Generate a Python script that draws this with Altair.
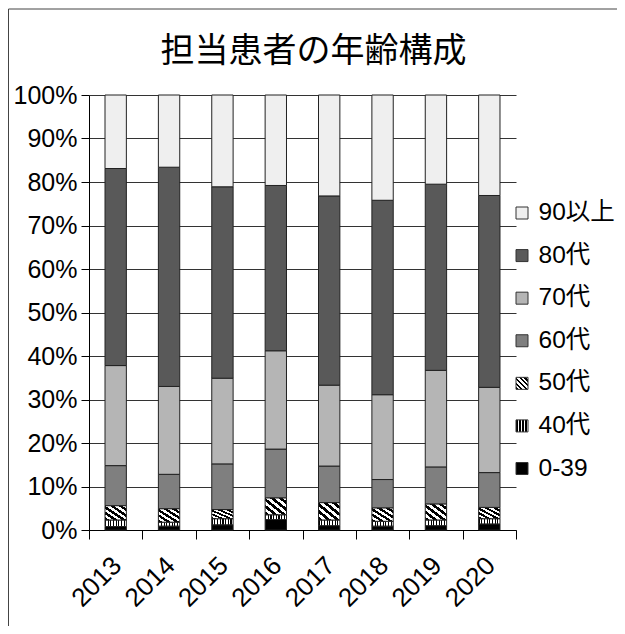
import altair as alt
import pandas as pd

years = ["2013", "2014", "2015", "2016", "2017", "2018", "2019", "2020"]
groups = ["0-39", "40代", "50代", "60代", "70代", "80代", "90以上"]

age_0_39 = [0.8, 0.9, 1.2, 2.4, 1.0, 0.9, 1.0, 1.4]
age_40 = [1.5, 0.9, 1.4, 1.1, 1.3, 1.1, 1.3, 1.2]
age_50 = [3.3, 3.1, 2.1, 3.9, 4.0, 3.1, 3.7, 2.6]
age_60 = [9.2, 7.9, 10.5, 11.2, 8.4, 6.5, 8.5, 8.0]
age_70 = [23.0, 20.2, 19.7, 22.6, 18.6, 19.5, 22.2, 19.6]
age_80 = [45.3, 50.4, 44.0, 38.0, 43.5, 44.7, 42.8, 44.1]
age_90 = [16.9, 16.6, 21.1, 20.8, 23.2, 24.2, 20.5, 23.1]

series = [age_0_39, age_40, age_50, age_60, age_70, age_80, age_90]

rows = []
for k, (g, vals) in enumerate(zip(groups, series)):
    for y, v in zip(years, vals):
        rows.append({"year": y, "age": g, "v": v, "k": k})
df = pd.DataFrame(rows)

legend_order = ["90以上", "80代", "70代", "60代", "50代", "40代", "0-39"]
colors = ["#efefef", "#595959", "#b5b5b5", "#7f7f7f", "#8a8a8a", "#bdbdbd", "#000000"]
legend_df = pd.DataFrame({"age": legend_order})


def stripes(n, dark, c1, c2, x1, y1, x2, y2):
    stops = []
    for i in range(n):
        a = i / n
        b = (i + dark) / n
        c = (i + 1) / n
        stops += [
            {"offset": a, "color": c1},
            {"offset": b, "color": c1},
            {"offset": b, "color": c2},
            {"offset": c, "color": c2},
        ]
    return {"gradient": "linear", "x1": x1, "y1": y1, "x2": x2, "y2": y2, "stops": stops}


G50 = stripes(5, 0.5, "#000000", "#ffffff", 0, 1, 1, 0)
G40 = stripes(8, 0.4, "#000000", "#ffffff", 0, 0, 1, 0)

FONT = "Liberation Sans, Noto Sans CJK JP"

fill_enc = alt.Fill(
    "age:N",
    scale=alt.Scale(domain=legend_order, range=colors),
    condition=[
        {"test": "datum.age === '50代'", "value": G50},
        {"test": "datum.age === '40代'", "value": G40},
    ],
    legend=None,
)

bars = alt.Chart(df).mark_bar(
    width=alt.RelativeBandSize(0.4), stroke="#222222", strokeWidth=1
).encode(
    x=alt.X(
        "year:N",
        sort=years,
        title=None,
        scale=alt.Scale(paddingInner=0, paddingOuter=0),
        axis=alt.Axis(
            tickBand="extent",
            labelAngle=-45,
            labelFontSize=26,
            labelFont=FONT,
            labelColor="black",
            labelOffset=-8,
            tickSize=9,
            tickColor="black",
            domainColor="black",
            grid=False,
            labelPadding=13,
        ),
    ),
    y=alt.Y(
        "v:Q",
        stack="normalize",
        title=None,
        scale=alt.Scale(domain=[0, 1]),
        axis=alt.Axis(
            format="%",
            values=[0, 0.1, 0.2, 0.3, 0.4, 0.5, 0.6, 0.7, 0.8, 0.9, 1.0],
            labelFontSize=25,
            labelFont=FONT,
            labelColor="black",
            tickSize=8,
            tickColor="black",
            domainColor="black",
            gridColor="#333333",
            labelPadding=4,
        ),
    ),
    fill=fill_enc,
    order=alt.Order("k:Q", sort="ascending"),
)

leg_y = alt.Y(
    "age:N",
    scale=alt.Scale(type="point", domain=legend_order, range=[118, 373.5], padding=0),
    axis=None,
)

leg_sym = alt.Chart(legend_df).mark_square(
    size=144, stroke="#333333", strokeWidth=1, opacity=1
).encode(x=alt.value(433), y=leg_y, fill=fill_enc)

leg_txt = alt.Chart(legend_df).mark_text(
    align="left", baseline="middle", fontSize=24.5, font=FONT, color="black"
).encode(x=alt.value(449.5), y=leg_y, text="age:N")

frame = alt.Chart(pd.DataFrame({"f": [0]})).mark_rect(
    fillOpacity=0, stroke="#444444", strokeWidth=1
).encode(
    x=alt.value(-80.5), x2=alt.value(700), y=alt.value(-86), y2=alt.value(700)
)

chart = alt.layer(frame, bars, leg_sym, leg_txt).resolve_scale(
    y="independent"
).properties(
    width=427,
    height=435,
    title=alt.TitleParams(
        "担当患者の年齢構成",
        fontSize=34,
        font="Noto Sans CJK JP",
        fontWeight="normal",
        color="black",
        anchor="middle",
        frame="group",
        baseline="alphabetic",
        dx=11,
        offset=-87.5,
    ),
    autosize=alt.AutoSizeParams(type="none"),
    padding={"left": 81, "top": 87, "right": 101, "bottom": 96},
).configure_view(strokeWidth=0)

chart.save("out.html", embed_options={"renderer": "svg", "actions": False})
